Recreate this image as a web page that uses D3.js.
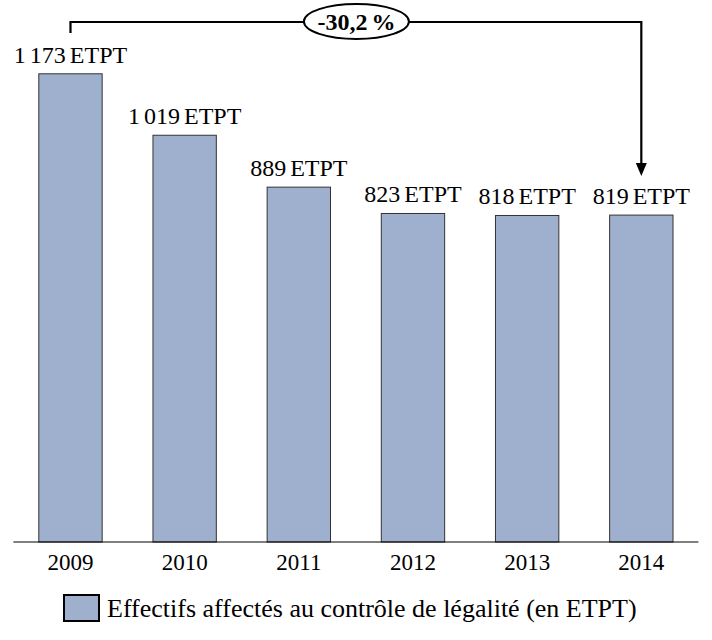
<!DOCTYPE html>
<html>
<head>
<meta charset="utf-8">
<script src="https://cdn.jsdelivr.net/npm/d3@7"></script>
<style>
  body { margin: 0; background: #fff; }
</style>
</head>
<body>
<div id="chart"></div>
<script>
// data
const years = ["2009", "2010", "2011", "2012", "2013", "2014"];
const effectifs = [1173, 1019, 889, 823, 818, 819];
const valueLabels = ["1 173 ETPT", "1 019 ETPT", "889 ETPT", "823 ETPT", "818 ETPT", "819 ETPT"];
const evolutionLabel = "-30,2 %";
const legendLabel = "Effectifs affectés au contrôle de légalité (en ETPT)";

const FONT = "Liberation Serif";
const width = 712, height = 640;
const baseline = 542;

const svg = d3.select("#chart").append("svg")
    .attr("width", width)
    .attr("height", height);

/***** scales *****/
const xScale = d3.scaleBand()
    .domain(years)
    .range([13.4, 698.4])
    .paddingInner(0.445)
    .paddingOuter(0.2225);

const yScale = d3.scaleLinear()
    .domain([0, 1200])
    .range([baseline, 63]);

const data = years.map((y, i) => ({year: y, value: effectifs[i], label: valueLabels[i]}));

/***** bars *****/
svg.selectAll(".bar")
    .data(data)
    .enter()
    .append("rect")
    .attr("class", "bar")
    .attr("x", d => xScale(d.year))
    .attr("y", d => yScale(d.value))
    .attr("width", xScale.bandwidth())
    .attr("height", d => baseline - yScale(d.value))
    .style("fill", "#9EB0CE")
    .style("stroke", "#333")
    .style("stroke-width", 1);

// value labels
svg.selectAll(".valueLabel")
    .data(data)
    .enter()
    .append("text")
    .attr("class", "valueLabel")
    .attr("x", d => xScale(d.year) + xScale.bandwidth() / 2)
    .attr("y", d => yScale(d.value) - 11)
    .attr("text-anchor", "middle")
    .style("font-family", FONT)
    .style("font-size", "24px")
    .style("word-spacing", "-2px")
    .style("fill", "#000")
    .text(d => d.label);

/***** x axis *****/
svg.append("line")
    .attr("x1", xScale.range()[0]).attr("x2", xScale.range()[1])
    .attr("y1", baseline).attr("y2", baseline)
    .style("stroke", "#000")
    .style("stroke-width", 1.2);

const xAxis = svg.append("g")
    .attr("transform", `translate(0, ${baseline})`)
    .call(d3.axisBottom(xScale).tickSize(0).tickPadding(12));
xAxis.select(".domain").remove();
xAxis.attr("font-family", FONT).attr("font-size", 23);
xAxis.selectAll("text")
    .style("font-family", FONT)
    .style("font-size", "23px")
    .style("fill", "#000")
    .attr("dy", "0.71em");

/***** evolution annotation *****/
const first = data[0], last = data[data.length - 1];
const x0 = xScale(first.year) + xScale.bandwidth() / 2;
const x1 = xScale(last.year) + xScale.bandwidth() / 2;
const lineY = 22;
const arrowTip = yScale(last.value) - 39;

svg.append("path")
    .attr("d", `M${x0},${lineY + 11}V${lineY}H${x1}V${arrowTip - 12}`)
    .style("fill", "none")
    .style("stroke", "#000")
    .style("stroke-width", 2.2);

svg.append("path")
    .attr("d", `M${x1 - 5.5},${arrowTip - 13}L${x1 + 5.5},${arrowTip - 13}L${x1},${arrowTip}Z`)
    .style("fill", "#000");

const ell = svg.append("g").attr("transform", `translate(${(x0 + x1) / 2 + 0.5}, ${lineY - 0.5})`);
ell.append("ellipse")
    .attr("rx", 52.5)
    .attr("ry", 17.5)
    .style("fill", "#fff")
    .style("stroke", "#000")
    .style("stroke-width", 2);
ell.append("text")
    .attr("text-anchor", "middle")
    .attr("y", 8.5)
    .style("font-family", FONT)
    .style("font-size", "24px")
    .style("font-weight", "bold")
    .style("word-spacing", "-2px")
    .style("fill", "#000")
    .text(evolutionLabel);

/***** legend *****/
const legend = svg.append("g").attr("transform", "translate(64, 595)");
legend.append("rect")
    .attr("width", 35)
    .attr("height", 26)
    .style("fill", "#9EB0CE")
    .style("stroke", "#000")
    .style("stroke-width", 2);
legend.append("text")
    .attr("x", 43)
    .attr("y", 21.5)
    .style("font-family", FONT)
    .style("font-size", "26px")
    .style("fill", "#000")
    .text(legendLabel);
</script>
</body>
</html>
